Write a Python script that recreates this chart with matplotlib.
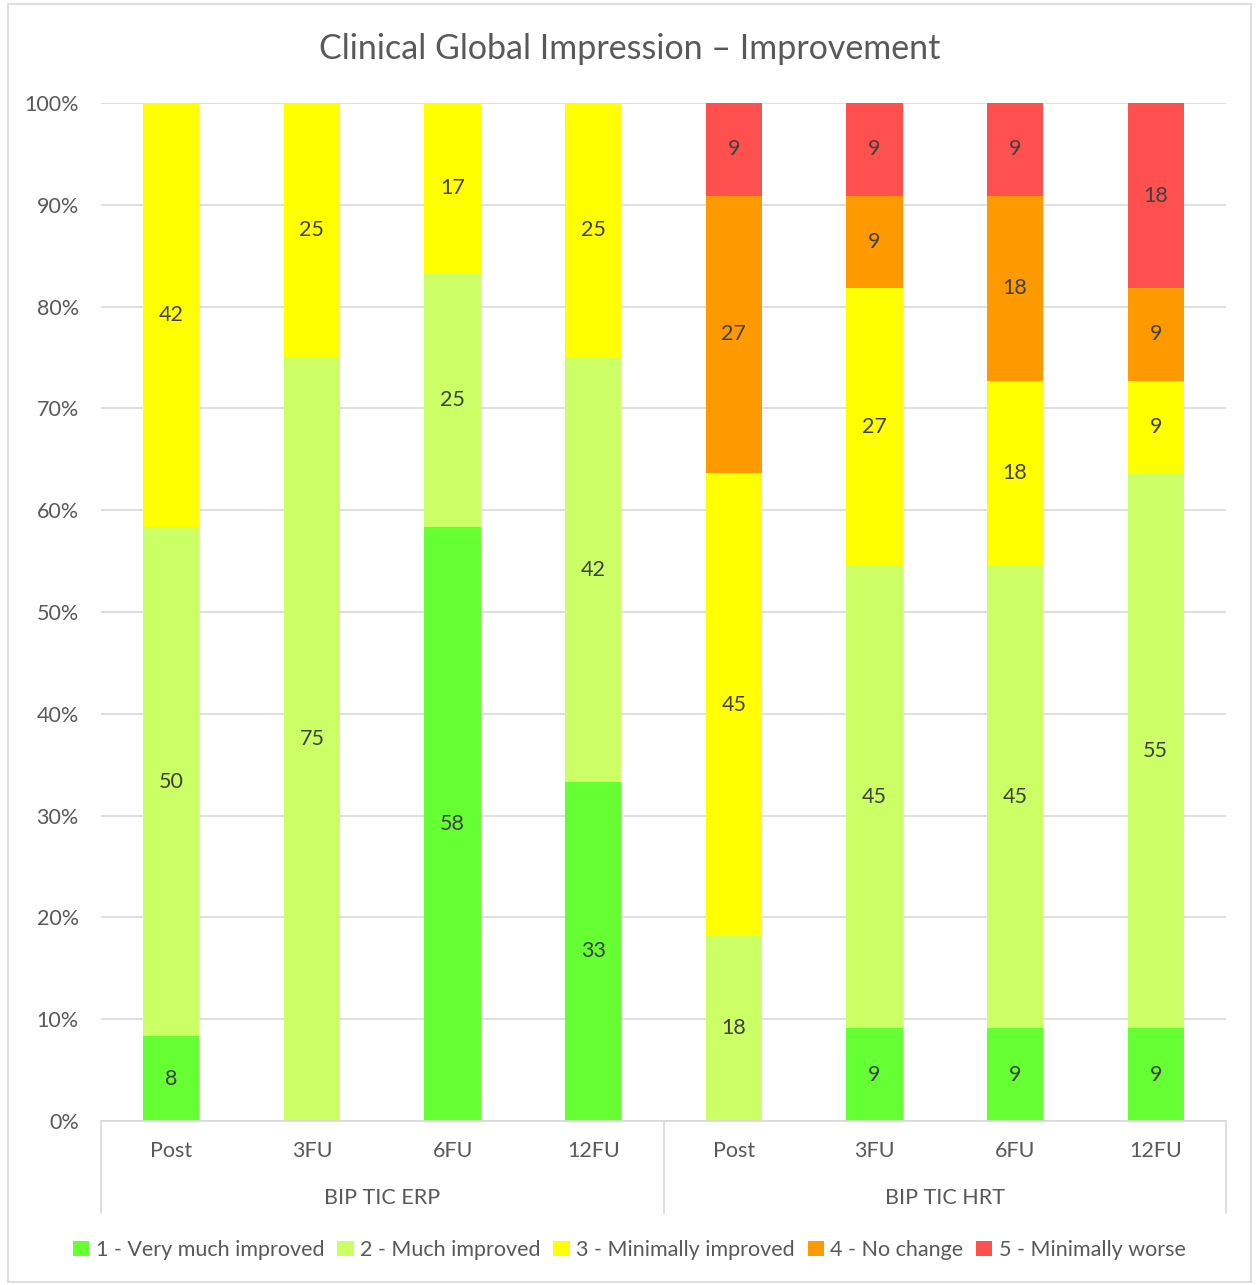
import matplotlib
matplotlib.use("Agg")
import matplotlib.pyplot as plt
import matplotlib.transforms as mtransforms
from matplotlib.patches import Rectangle
import numpy as np

# data: patient counts per rating (ERP n=12, HRT n=11), labels show rounded %
groups = ["BIP TIC ERP", "BIP TIC HRT"]
timepoints = ["Post", "3FU", "6FU", "12FU"]
series = ["1 - Very much improved", "2 - Much improved", "3 - Minimally improved",
          "4 - No change", "5 - Minimally worse"]
very_much = [1, 0, 7, 4, 0, 1, 1, 1]
much = [6, 9, 3, 5, 2, 5, 5, 6]
minimally = [5, 3, 2, 3, 5, 3, 2, 1]
no_change = [0, 0, 0, 0, 3, 1, 2, 1]
worse = [0, 0, 0, 0, 1, 1, 1, 2]
colors = ["#66FF33", "#CCFF66", "#FFFF00", "#FF9900", "#FF5050"]

plt.rcParams['font.family'] = ['Lato', 'DejaVu Sans']
txt = "#595959"

def main():
    vals = np.array([very_much, much, minimally, no_change, worse], dtype=float)
    share = vals / vals.sum(axis=0) * 100
    x = np.arange(len(very_much))

    fig = plt.figure(figsize=(12.59, 12.85), dpi=100)
    fig.patches.append(Rectangle((8 / 1259, 3 / 1285), 1243 / 1259, 1278 / 1285,
                                 transform=fig.transFigure, fill=False,
                                 edgecolor="#d9d9d9", linewidth=1.2))
    ax = fig.add_axes([101 / 1259, 1 - 1121 / 1285, 1125 / 1259, 1018 / 1285])

    bottom = np.zeros(len(x))
    for i, name in enumerate(series):
        ax.bar(x, share[i], bottom=bottom, width=0.4, color=colors[i], label=name, zorder=2)
        for j in range(len(x)):
            if vals[i, j] > 0:
                ax.text(x[j], bottom[j] + share[i, j] / 2, f"{share[i, j]:.0f}",
                        ha="center", va="center", fontsize=15.5, color="#404040", zorder=3)
        bottom += share[i]

    ax.set_xlim(-0.5, len(x) - 0.5)
    ax.set_ylim(0, 100)
    ax.set_yticks(range(0, 101, 10))
    ax.set_yticklabels([f"{v}%" for v in range(0, 101, 10)], fontsize=15.5, color=txt)
    ax.tick_params(axis="y", length=0, pad=16)
    ax.set_xticks([])
    ax.yaxis.grid(True, color="#d9d9d9", linewidth=1.2, zorder=0)
    for s in ["left", "right", "top"]:
        ax.spines[s].set_visible(False)
    ax.spines["bottom"].set_color("#d9d9d9")
    ax.spines["bottom"].set_linewidth(1.2)

    # two-level category axis
    trans = mtransforms.blended_transform_factory(ax.transData, ax.transAxes)
    for xv in [-0.5, 3.5, 7.5]:
        ax.plot([xv, xv], [0, -0.0904], transform=trans, clip_on=False,
                color="#d9d9d9", linewidth=1.2)
    labels = timepoints * len(groups)
    for j in range(len(x)):
        ax.text(x[j], -0.0295, labels[j], transform=trans, ha="center", va="center",
                fontsize=15.5, color=txt)
    for g, name in enumerate(groups):
        ax.text(g * 4 + 1.5, -0.0756, name, transform=trans, ha="center", va="center",
                fontsize=15.5, color=txt)

    fig.text(0.5, 1 - 49 / 1285, "Clinical Global Impression \u2013 Improvement",
             ha="center", va="center", fontsize=24.5, color=txt)

    fig.legend(loc="center", bbox_to_anchor=(0.5, 1 - 1250 / 1285), ncol=5, frameon=False,
               fontsize=15.5, labelcolor=txt, handlelength=0.75, handleheight=0.75,
               handletextpad=0.3, columnspacing=0.6)

    fig.savefig("out.png", dpi=100)

main()
